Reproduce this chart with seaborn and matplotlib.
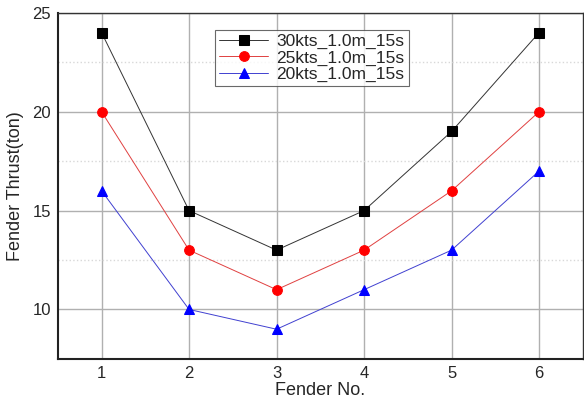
import pandas as pd
import seaborn as sns
import matplotlib.pyplot as plt
from matplotlib.ticker import MultipleLocator

fenders = [1, 2, 3, 4, 5, 6]
thrust_30kts = [24, 15, 13, 15, 19, 24]
thrust_25kts = [20, 13, 11, 13, 16, 20]
thrust_20kts = [16, 10, 9, 11, 13, 17]
labels = ['30kts_1.0m_15s', '25kts_1.0m_15s', '20kts_1.0m_15s']

sns.set_style('white')
plt.rcParams['font.family'] = ['Liberation Sans', 'DejaVu Sans']

fig = plt.figure(figsize=(5.84, 4.01), dpi=100)
ax = fig.add_axes([0.099, 0.105, 0.899, 0.863])

series = [thrust_30kts, thrust_25kts, thrust_20kts]
colors = ['black', 'red', 'blue']
line_colors = ['#333333', '#e04040', '#4040d0']
markers = ['s', 'o', '^']
msizes = [6.5, 7, 7.5]
for vals, lab, c, lc, m, ms in zip(series, labels, colors, line_colors, markers, msizes):
    df = pd.DataFrame({'Fender': fenders, 'Thrust': vals})
    sns.lineplot(data=df, x='Fender', y='Thrust', ax=ax, color=lc, marker=m,
                 markersize=ms, markerfacecolor=c, markeredgecolor=c,
                 linewidth=0.7, label=lab)

ax.set_xlim(0.5, 6.5)
ax.set_ylim(7.5, 25)
ax.set_xticks(fenders)
ax.yaxis.set_major_locator(MultipleLocator(5))
ax.yaxis.set_minor_locator(MultipleLocator(2.5))
ax.grid(which='major', color='#b0b0b0', linewidth=1.0)
ax.grid(which='minor', axis='y', color='#d8d8d8', linestyle=':', linewidth=1.0)
ax.tick_params(axis='both', which='both', length=0, labelsize=12, pad=5)

for side in ['left', 'bottom']:
    ax.spines[side].set_linewidth(1.5)
    ax.spines[side].set_color('#222222')
for side in ['top', 'right']:
    ax.spines[side].set_linewidth(1.0)
    ax.spines[side].set_color('#333333')

ax.set_xlabel('Fender No.', fontsize=13, labelpad=1)
ax.set_ylabel('Fender Thrust(ton)', fontsize=13, labelpad=6)

leg = ax.legend(loc='upper center', bbox_to_anchor=(0.484, 0.951), fontsize=12.5,
                frameon=True, fancybox=False, edgecolor='#444444',
                borderpad=0.25, labelspacing=0.05, handlelength=2.8,
                handletextpad=0.5, borderaxespad=0)
leg.get_frame().set_linewidth(0.8)

plt.savefig('out.png', dpi=100)
